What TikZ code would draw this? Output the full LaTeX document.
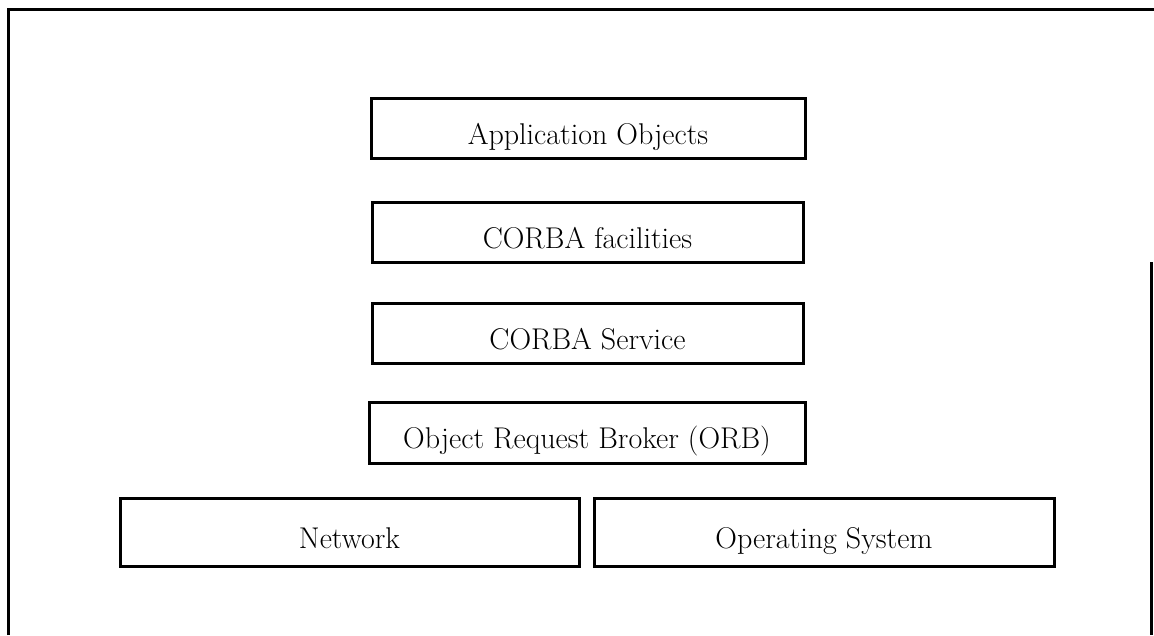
\documentclass[tikz,border=0pt]{standalone}
\usepackage{fontspec}
\begin{document}
\begin{tikzpicture}[x=1pt,y=-1pt,
  layer/.style={draw=black, line width=3pt, inner sep=0pt,
    text height=32pt, text depth=0pt,
    font=\fontsize{30}{36}\selectfont\addfontfeatures{FakeBold=0.6}},
  frame/.style={draw=black, line width=3pt}]
  \useasboundingbox (0,0) rectangle (1154,635);
  % outer border (bottom edge open)
  \draw[frame] (8,635) -- (8,9) -- (1154,9);
  \draw[frame] (1151,262) -- (1151,635);
  % stacked layers
  \node[layer, minimum width=434pt, minimum height=60pt] (app) at (588,128) {Application Objects};
  \node[layer, minimum width=431pt, minimum height=60pt] (fac) at (587.5,232) {CORBA facilities};
  \node[layer, minimum width=431pt, minimum height=60pt] (svc) at (587.5,333) {CORBA Service};
  \node[layer, minimum width=436pt, minimum height=61pt] (orb) at (587,432.5) {Object Request Broker (ORB)};
  \node[layer, minimum width=459pt, minimum height=68pt] (net) at (349.5,532) {Network};
  \node[layer, minimum width=460pt, minimum height=68pt] (os) at (824,532) {Operating System};
\end{tikzpicture}
\end{document}
